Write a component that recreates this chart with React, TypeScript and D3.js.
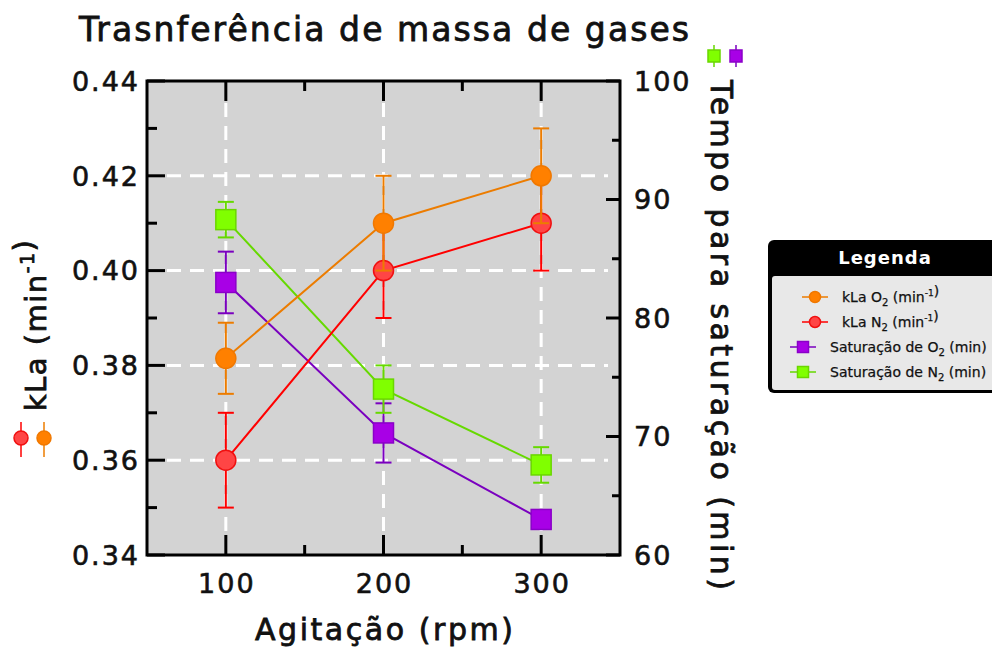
import React from "react";
import * as d3 from "d3";

// Agitação (rpm)
const agitacao = [100, 200, 300];
// kLa (min-1), left axis
const kLaO2 = [0.3815, 0.41, 0.42];
const kLaO2Err = [0.0075, 0.01, 0.01];
const kLaN2 = [0.36, 0.4, 0.41];
const kLaN2Err = [0.01, 0.01, 0.01];
// tempo para saturação (min), right axis
const satO2 = [83, 70.3, 63];
const satO2Err = [2.6, 2.5, 0.6];
const satN2 = [88.3, 74, 67.6];
const satN2Err = [1.5, 2, 1.5];

const xTicks = [100, 200, 300];
const xMinor = [150, 250];
const yLTicks = [0.34, 0.36, 0.38, 0.4, 0.42, 0.44];
const yLMinor = [0.35, 0.37, 0.39, 0.41, 0.43];
const yRTicks = [60, 70, 80, 90, 100];
const yRMinor = [65, 75, 85, 95];
const gridY = [0.36, 0.38, 0.4, 0.42];

const FONT = "'DejaVu Sans', sans-serif";
const INK = "#111";

const L = 147, R = 620, T = 81, B = 555;
const x = d3.scaleLinear().domain([50, 350]).range([L, R]);
const yL = d3.scaleLinear().domain([0.34, 0.44]).range([B, T]);
const yR = d3.scaleLinear().domain([60, 100]).range([B, T]);

type Series = {
  vals: number[];
  errs: number[];
  y: d3.ScaleLinear<number, number>;
  line: string;
  fill: string;
  stroke: string;
  shape: "circle" | "square";
};

const purple: Series = { vals: satO2, errs: satO2Err, y: yR, line: "#7a00bf", fill: "#a800e6", stroke: "#8a00c8", shape: "square" };
const green: Series = { vals: satN2, errs: satN2Err, y: yR, line: "#66d900", fill: "#80ff00", stroke: "#6ad600", shape: "square" };
const red: Series = { vals: kLaN2, errs: kLaN2Err, y: yL, line: "#ff0000", fill: "#ff4545", stroke: "#f01010", shape: "circle" };
const orange: Series = { vals: kLaO2, errs: kLaO2Err, y: yL, line: "#ec7c00", fill: "#ff8000", stroke: "#f07800", shape: "circle" };

const seriesOrder = [purple, green, red, orange];

const Marker: React.FC<{ cx: number; cy: number; s: Series; size: number }> = ({ cx, cy, s, size }) =>
  s.shape === "circle" ? (
    <circle cx={cx} cy={cy} r={size} fill={s.fill} stroke={s.stroke} strokeWidth={1.5} />
  ) : (
    <rect x={cx - size} y={cy - size} width={size * 2} height={size * 2} fill={s.fill} stroke={s.stroke} strokeWidth={1.5} />
  );

const SeriesG: React.FC<{ s: Series }> = ({ s }) => {
  const pts = agitacao.map((a, i) => [x(a), s.y(s.vals[i])] as [number, number]);
  const path = d3.line()(pts) || "";
  return (
    <g>
      <path d={path} fill="none" stroke={s.line} strokeWidth={2} />
      {agitacao.map((a, i) => {
        const cx = x(a);
        const y0 = s.y(s.vals[i] + s.errs[i]);
        const y1 = s.y(s.vals[i] - s.errs[i]);
        return (
          <g key={i} stroke={s.line} strokeWidth={2}>
            <line x1={cx} x2={cx} y1={y0} y2={y1} />
            <line x1={cx - 8} x2={cx + 8} y1={y0} y2={y0} />
            <line x1={cx - 8} x2={cx + 8} y1={y1} y2={y1} />
          </g>
        );
      })}
      {pts.map((p, i) => (
        <Marker key={i} cx={p[0]} cy={p[1]} s={s} size={10} />
      ))}
    </g>
  );
};

const Sub: React.FC<{ t: string; fs: number }> = ({ t, fs }) => (
  <>
    <tspan dy={fs * 0.25} fontSize={fs * 0.72}>{t}</tspan>
    <tspan dy={-fs * 0.25}> </tspan>
  </>
);
const Sup: React.FC<{ t: string; fs: number }> = ({ t, fs }) => (
  <>
    <tspan dy={-fs * 0.4} fontSize={fs * 0.65}>{t}</tspan>
    <tspan dy={fs * 0.4}></tspan>
  </>
);

const legendItems = [
  { s: orange, main: "kLa O", sub: "2", tail: "(min", sup: "-1", end: ")" },
  { s: red, main: "kLa N", sub: "2", tail: "(min", sup: "-1", end: ")" },
  { s: purple, main: "Saturação de O", sub: "2", tail: "(min)", sup: "", end: "" },
  { s: green, main: "Saturação de N", sub: "2", tail: "(min)", sup: "", end: "" },
];

const Legend: React.FC = () => {
  const lx = 768, ly = 240;
  const fs = 14;
  return (
    <g fontFamily={FONT}>
      <rect x={lx} y={ly} width={240} height={153} rx={6} fill="#000" />
      <rect x={lx + 4} y={ly + 36} width={240} height={114} rx={3} fill="#e8e8e8" />
      <text x={885} y={ly + 24} textAnchor="middle" fill="#fff" fontSize={18} fontWeight="bold" letterSpacing={1}>
        Legenda
      </text>
      {legendItems.map((it, i) => {
        const cy = 297 + i * 25;
        const circ = it.s.shape === "circle";
        const x0 = circ ? 802 : 790;
        const x1 = circ ? 828 : 816;
        const tx = circ ? 842 : 830;
        return (
          <g key={i}>
            <line x1={x0} x2={x1} y1={cy} y2={cy} stroke={it.s.line} strokeWidth={1.5} />
            <Marker cx={(x0 + x1) / 2} cy={cy} s={it.s} size={5.5} />
            <text x={tx} y={cy + 5} fontSize={fs} fill={INK} stroke={INK} strokeWidth={0.25}>
              {it.main}
              <Sub t={it.sub} fs={fs} />
              {it.tail}
              {it.sup ? <Sup t={it.sup} fs={fs} /> : null}
              {it.end}
            </text>
          </g>
        );
      })}
    </g>
  );
};

const App: React.FC = () => {
  const dash = "14 9";
  return (
    <svg width={992} height={650} style={{ position: "absolute", left: 0, top: 0, background: "#fff" }} fontFamily={FONT}>
      {/* title */}
      <text x={384} y={41} textAnchor="middle" fontSize={33} fill={INK} stroke={INK} strokeWidth={0.8} textLength={610} lengthAdjust="spacing">
        Trasnferência de massa de gases
      </text>

      {/* plot background */}
      <rect x={L} y={T} width={R - L} height={B - T} fill="#d3d3d3" />

      {/* grid */}
      <g stroke="#fff" strokeWidth={3} strokeDasharray={dash}>
        {xTicks.map(v => (
          <line key={v} x1={x(v)} x2={x(v)} y1={T + 22} y2={B - 22} />
        ))}
        {gridY.map(v => (
          <line key={v} x1={L + 20} x2={R - 12} y1={yL(v)} y2={yL(v)} />
        ))}
      </g>

      {/* series */}
      {seriesOrder.map((s, i) => (
        <SeriesG key={i} s={s} />
      ))}

      {/* frame and ticks */}
      <rect x={L} y={T} width={R - L} height={B - T} fill="none" stroke="#000" strokeWidth={3} />
      <g stroke="#000" strokeWidth={3}>
        {xTicks.map(v => (
          <g key={v}>
            <line x1={x(v)} x2={x(v)} y1={B} y2={B - 20} />
            <line x1={x(v)} x2={x(v)} y1={T} y2={T + 20} />
          </g>
        ))}
        {xMinor.map(v => (
          <g key={v}>
            <line x1={x(v)} x2={x(v)} y1={B} y2={B - 10} />
            <line x1={x(v)} x2={x(v)} y1={T} y2={T + 10} />
          </g>
        ))}
        {yLTicks.map(v => (
          <line key={v} x1={L} x2={L + 18} y1={yL(v)} y2={yL(v)} />
        ))}
        {yLMinor.map(v => (
          <line key={v} x1={L} x2={L + 10} y1={yL(v)} y2={yL(v)} />
        ))}
        {yRTicks.map(v => (
          <line key={v} x1={R} x2={R - 14} y1={yR(v)} y2={yR(v)} />
        ))}
        {yRMinor.map(v => (
          <line key={v} x1={R} x2={R - 8} y1={yR(v)} y2={yR(v)} />
        ))}
      </g>

      {/* tick labels */}
      <g fontSize={27} fill={INK} stroke={INK} strokeWidth={0.6} letterSpacing={2}>
        {xTicks.map(v => (
          <text key={v} x={x(v) + 1} y={593} textAnchor="middle">
            {v}
          </text>
        ))}
        {yLTicks.map(v => (
          <text key={v} x={140} y={yL(v)} dy="0.36em" textAnchor="end">
            {d3.format(".2f")(v)}
          </text>
        ))}
        {yRTicks.map(v => (
          <text key={v} x={634} y={yR(v)} dy="0.36em" textAnchor="start">
            {v}
          </text>
        ))}
      </g>

      {/* x axis title */}
      <text x={384} y={640} textAnchor="middle" fontSize={30} fill={INK} stroke={INK} strokeWidth={0.8} textLength={258} lengthAdjust="spacing">
        Agitação (rpm)
      </text>

      {/* left axis title */}
      <g transform="translate(46,325) rotate(-90)">
        <text x={0} y={0} textAnchor="middle" fontSize={29} fill={INK} stroke={INK} strokeWidth={0.8} letterSpacing={1.5}>
          kLa (min
          <Sup t="-1" fs={29} />)
        </text>
      </g>
      {[red, orange].map((s, i) => {
        const cx = 21 + i * 23;
        return (
          <g key={i}>
            <line x1={cx} x2={cx} y1={422} y2={457} stroke={s.line} strokeWidth={1.5} />
            <Marker cx={cx} cy={438} s={s} size={7} />
          </g>
        );
      })}

      {/* right axis title */}
      <g transform="translate(711,80) rotate(90)">
        <text x={0} y={0} textAnchor="start" fontSize={30} fill={INK} stroke={INK} strokeWidth={0.8} textLength={510} lengthAdjust="spacing">
          Tempo para saturação (min)
        </text>
      </g>
      {[green, purple].map((s, i) => {
        const cx = 714 + i * 22;
        return (
          <g key={i}>
            <line x1={cx} x2={cx} y1={45} y2={67} stroke={s.line} strokeWidth={1.5} />
            <Marker cx={cx} cy={56} s={s} size={6} />
          </g>
        );
      })}

      <Legend />
    </svg>
  );
};

export default App;
